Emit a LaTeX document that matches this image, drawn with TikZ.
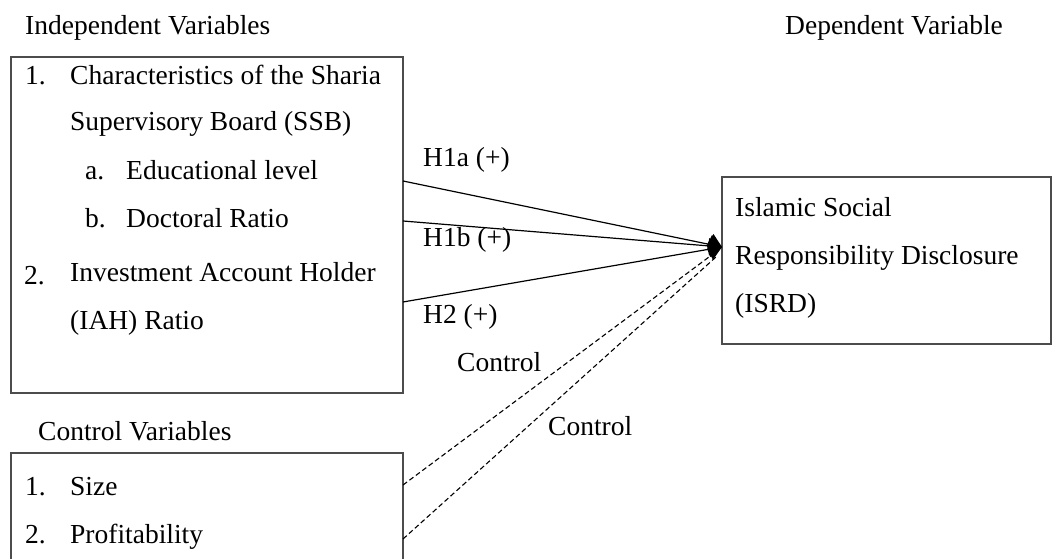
\documentclass[tikz,border=0pt]{standalone}
\usepackage{fontspec}
\setmainfont{Liberation Serif}
\usetikzlibrary{arrows.meta,calc}
\begin{document}
\begin{tikzpicture}[x=1pt,y=-1pt,
  txt/.style={anchor=base west, inner sep=0pt, font=\fontsize{27.5}{33}\selectfont},
  boxstyle/.style={draw=black!70, line width=1.3pt, inner sep=0pt},
  link/.style={line width=1.2pt, -{Kite[length=15pt,width=22pt,inset=4pt]}},
  ctrl/.style={line width=1.1pt, dash pattern=on 5pt off 3pt}]
\clip (0,0) rectangle (1053,559);
\fill[white] (0,0) rectangle (1053,559);
% boxes
\node[boxstyle, minimum width=392pt, minimum height=336pt] (ibox) at (207,225) {};
\node[boxstyle, minimum width=392pt, minimum height=140pt] (cbox) at (207,523) {};
\node[boxstyle, minimum width=329pt, minimum height=167pt] (dbox) at (886.5,260.5) {};
% headings
\node[txt] (ih) at (25,35) {Independent Variables};
\node[txt] (dh) at (785,35) {Dependent Variable};
\node[txt] (ch) at (38,440) {Control Variables};
% independent list
\node[txt] (n1) at (25,85) {1.};
\node[txt] (t1) at (70,85) {Characteristics of the Sharia};
\node[txt] (t1b) at (70,131) {Supervisory Board (SSB)};
\node[txt] (na) at (85,180) {a.};
\node[txt] (ta) at (126,180) {Educational level};
\node[txt] (nb) at (85,228) {b.};
\node[txt] (tb) at (126,228) {Doctoral Ratio};
\node[txt] (n2) at (24,284) {2.};
\node[txt] (t2) at (70,281) {Investment Account Holder};
\node[txt] (t2b) at (70,329) {(IAH) Ratio};
% control list
\node[txt] (c1n) at (25,495) {1.};
\node[txt] (c1t) at (70,495) {Size};
\node[txt] (c2n) at (25,543) {2.};
\node[txt] (c2t) at (70,543) {Profitability};
% dependent text
\node[txt] (d1) at (735,217) {Islamic Social};
\node[txt] (d2) at (735,264) {Responsibility Disclosure};
\node[txt] (d3) at (735,312) {(ISRD)};
% connector labels
\node[txt] (l1) at (423,167) {H1a (+)};
\node[txt] (l2) at (423,247) {H1b (+)};
\node[txt] (l3) at (423,323) {H2 (+)};
\node[txt] (l4) at (457,371) {Control};
\node[txt] (l5) at (548,435) {Control};
% connector endpoints
\coordinate (tip) at (722,247);
\coordinate (s1) at (403,181);
\coordinate (s2) at (403,221);
\coordinate (s3) at (403,302);
\coordinate (c1) at (403,485);
\coordinate (c2) at (403,539);
\coordinate (e1) at (713,254);
\coordinate (e2) at (716,257);
% connectors
\draw[link] (s1) -- (tip);
\draw[link] (s2) -- (tip);
\draw[link] (s3) -- (tip);
\draw[ctrl] (c1) -- (e1);
\draw[ctrl] (c2) -- (e2);
\end{tikzpicture}
\end{document}
